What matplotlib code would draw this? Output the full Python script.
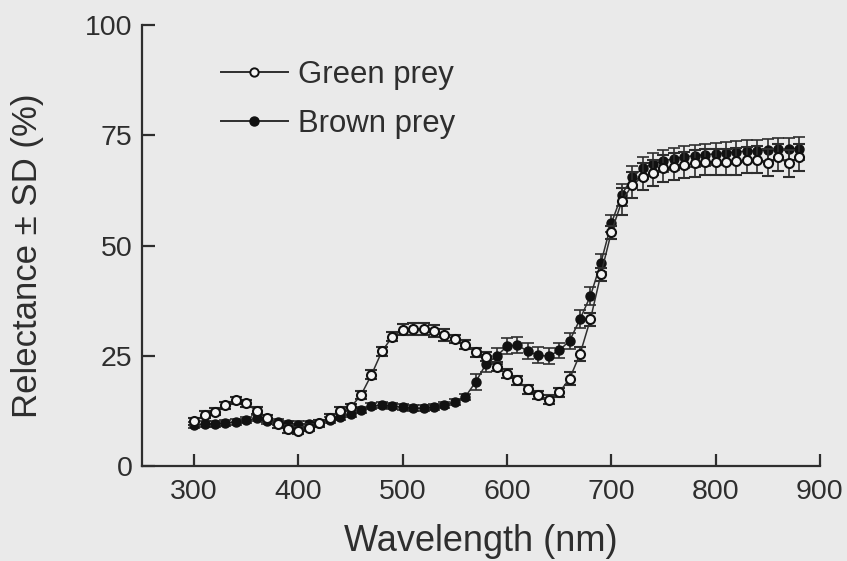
import matplotlib.pyplot as plt
from matplotlib.lines import Line2D

wavelength = list(range(300, 890, 10))

green_mean = [10.1, 11.6, 12.3, 13.8, 14.9, 14.2, 12.5, 10.8, 9.5, 8.4,
              8.0, 8.7, 9.7, 11.0, 12.5, 13.3, 16.1, 20.7, 26.0, 29.3,
              30.9, 31.1, 31.1, 30.6, 29.7, 28.8, 27.5, 25.8, 24.8, 22.5,
              20.9, 19.4, 17.4, 16.1, 15.0, 16.7, 19.8, 25.4, 33.3, 43.5,
              53.0, 60.0, 63.7, 65.6, 66.4, 67.5, 67.9, 68.2, 68.6, 68.9,
              69.0, 69.0, 69.1, 69.4, 69.5, 68.8, 70.0, 68.6, 70.0]
green_sd = [0.8] * 16 + [1.0] * 4 + [1.3] * 5 + [1.0] * 11 + [1.5] * 5 + [3.0] * 18

brown_mean = [9.3, 9.5, 9.6, 9.8, 10.0, 10.4, 10.8, 10.3, 9.9, 9.6,
              9.4, 9.5, 9.8, 10.4, 11.2, 11.8, 12.7, 13.6, 13.8, 13.6,
              13.3, 13.1, 13.1, 13.4, 13.8, 14.6, 15.7, 19.1, 23.2, 24.9,
              27.2, 27.4, 26.0, 25.1, 24.9, 26.2, 28.4, 33.3, 38.6, 46.1,
              55.0, 61.5, 65.5, 67.5, 68.5, 69.2, 69.7, 70.1, 70.4, 70.6,
              70.8, 71.0, 71.2, 71.4, 71.5, 71.6, 71.8, 71.9, 72.0]
brown_sd = [0.7] * 27 + [1.8] * 10 + [2.0] * 4 + [2.5] * 18

xticks = [300, 400, 500, 600, 700, 800, 900]
yticks = [0, 25, 50, 75, 100]

bg = '#eaeaea'
ink = '#2e2e2e'
dot = '#111111'

plt.rcParams['font.family'] = ['Liberation Sans', 'DejaVu Sans']

fig = plt.figure(figsize=(8.47, 5.61), dpi=100)
fig.patch.set_facecolor(bg)
ax = fig.add_axes([0.1677, 0.1693, 0.968 - 0.1677, 0.9554 - 0.1693])
ax.set_facecolor(bg)

ax.errorbar(wavelength, brown_mean, yerr=brown_sd, color=ink, marker='o',
            markersize=6.5, markerfacecolor=dot, markeredgecolor=dot,
            linewidth=1.1, elinewidth=1.2, capsize=4, capthick=1.2, zorder=2)
ax.errorbar(wavelength, green_mean, yerr=green_sd, color=ink, marker='o',
            markersize=6.5, markerfacecolor='#f4f4f4', markeredgecolor=dot,
            markeredgewidth=1.5, linewidth=1.1, elinewidth=1.2, capsize=4,
            capthick=1.2, zorder=3)

ax.set_xlim(250, 900)
ax.set_ylim(0, 100)
ax.set_xticks(xticks)
ax.set_yticks(yticks)
ax.spines['top'].set_visible(False)
ax.spines['right'].set_visible(False)
for s in ['left', 'bottom']:
    ax.spines[s].set_color(ink)
    ax.spines[s].set_linewidth(1.6)
ax.tick_params(direction='in', length=9, width=1.6, color=ink,
               labelsize=20.5, labelcolor=ink)
ax.tick_params(axis='y', pad=7)
ax.tick_params(axis='x', pad=9)

ax.set_xlabel('Wavelength (nm)', fontsize=26, color=ink, labelpad=14)
ax.set_ylabel('Relectance \u00b1 SD (%)', fontsize=25, color=ink)
ax.yaxis.set_label_coords(-0.144, 0.476)

# legend shows plain line + marker, no error bars
legend_handles = [
    Line2D([], [], color=ink, linewidth=1.4, marker='o', markersize=6,
           markerfacecolor='#f4f4f4', markeredgecolor=dot, markeredgewidth=1.4),
    Line2D([], [], color=ink, linewidth=1.4, marker='o', markersize=6.5,
           markerfacecolor=dot, markeredgecolor=dot),
]
ax.legend(legend_handles, ['Green prey', 'Brown prey'], loc='upper left',
          bbox_to_anchor=(0.075, 0.985), frameon=False, fontsize=22.4,
          handlelength=2.15, handletextpad=0.32, labelspacing=0.62,
          labelcolor=ink)

fig.savefig('out.png', dpi=100, facecolor=bg)
